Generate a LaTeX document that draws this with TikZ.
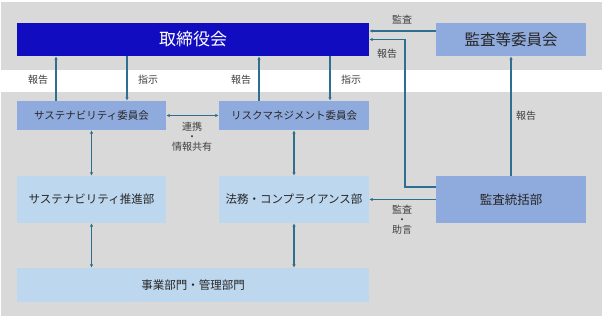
\documentclass[tikz,border=0pt]{standalone}
\usepackage{fontspec}
\setmainfont{Noto Sans CJK JP}
\usetikzlibrary{arrows.meta}
\definecolor{bggrey}{RGB}{217,217,217}
\definecolor{boardblue}{RGB}{18,12,192}
\definecolor{midblue}{RGB}{143,170,220}
\definecolor{lightblue}{RGB}{189,215,238}
\definecolor{arrowcol}{RGB}{46,110,142}
\definecolor{txtdark}{RGB}{38,38,38}
\definecolor{txtlabel}{RGB}{64,64,64}
\tikzset{
  boxbase/.style={draw=none, inner sep=0pt, align=center, text=txtdark},
  boardbox/.style={boxbase, fill=boardblue, text=white, minimum width=352pt, minimum height=33pt, font=\fontsize{17}{20}\selectfont},
  acbox/.style={boxbase, fill=midblue, minimum width=150pt, minimum height=33pt, font=\fontsize{15.5}{18}\selectfont},
  combox/.style={boxbase, fill=midblue, minimum width=150pt, minimum height=29pt, font=\fontsize{10.5}{12}\selectfont},
  deptbox/.style={boxbase, fill=lightblue, minimum width=150pt, minimum height=47pt, font=\fontsize{11.5}{13}\selectfont},
  adbox/.style={boxbase, fill=midblue, minimum width=150pt, minimum height=47pt, font=\fontsize{12.5}{14}\selectfont},
  bubox/.style={boxbase, fill=lightblue, minimum width=352pt, minimum height=34pt, font=\fontsize{11.5}{13}\selectfont},
  lbl/.style={inner sep=0pt, text=txtlabel, align=center, font=\fontsize{10}{10}\selectfont},
  arr/.style={draw=arrowcol, line width=1.1pt, -{Latex[length=3.5pt,width=3.5pt]}},
  darr/.style={draw=arrowcol, line width=1.1pt, {Latex[length=3.5pt,width=3.5pt]}-{Latex[length=3.5pt,width=3.5pt]}}
}
\begin{document}
\begin{tikzpicture}[x=1pt,y=-1pt]
\useasboundingbox (0,0) rectangle (603,318);
\fill[white] (0,0) rectangle (603,318);
\fill[bggrey] (1,2) rectangle (602,316);
\fill[white] (1,70) rectangle (602,92.5);

\node[boardbox] (board) at (193,39.5) {取締役会};
\node[acbox] (ac) at (511,39.5) {監査等委員会};
\node[combox, minimum width=149pt] (sc) at (91.5,115.5) {サステナビリティ委員会};
\node[combox] (rc) at (294,115.5) {リスクマネジメント委員会};
\node[deptbox, minimum width=149pt] (sd) at (91.5,199.5) {サステナビリティ推進部};
\node[deptbox] (ld) at (294,199.5) {法務・コンプライアンス部};
\node[adbox] (ad) at (511,199.5) {監査統括部};
\node[bubox] (bu) at (193,285) {事業部門・管理部門};

\coordinate (xa) at (56,0);
\coordinate (xb) at (127,0);
\coordinate (xc) at (259,0);
\coordinate (xd) at (330,0);
\coordinate (xe) at (405,0);

\draw[arr] (sc.north -| xa) -- (board.south -| xa);
\draw[arr] (board.south -| xb) -- (sc.north -| xb);
\draw[arr] (rc.north -| xc) -- (board.south -| xc);
\draw[arr] (board.south -| xd) -- (rc.north -| xd);
\draw[darr] (sc.east) -- (rc.west);
\draw[darr] (sc.south) -- (sd.north);
\draw[darr] (sd.south) -- (bu.north -| sd.south);
\draw[darr] (rc.south) -- (ld.north);
\draw[darr] (ld.south) -- (bu.north -| ld.south);
\draw[arr] ([yshift=8.5pt]ac.west) -- ([yshift=8.5pt]board.east);
\draw[arr] ([yshift=12.5pt]ad.west) -| (xe |- board.east) -- (board.east);
\draw[arr] (ad.north) -- (ac.south);
\draw[arr] (ad.west) -- (ld.east);

\node[lbl] (l1) at (38,80) {報告};
\node[lbl] (l2) at (148,80) {指示};
\node[lbl] (l3) at (241,80) {報告};
\node[lbl] (l4) at (351,80) {指示};
\node[lbl] (l5) at (402,20) {監査};
\node[lbl] (l6) at (387,54) {報告};
\node[lbl] (l7) at (526,116) {報告};
\node[lbl] (l8) at (192,137) {連携\\・\\情報共有};
\node[lbl] (l9) at (402,220) {監査\\・\\助言};
\end{tikzpicture}
\end{document}
